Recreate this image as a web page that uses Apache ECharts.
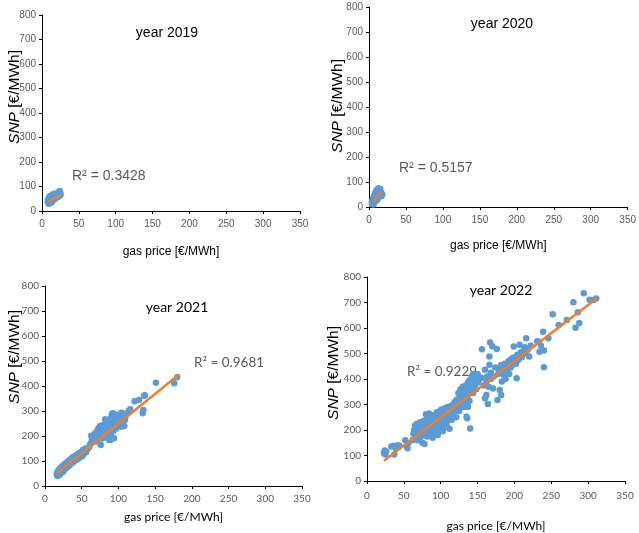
<!DOCTYPE html>
<html>
<head>
<meta charset="utf-8">
<script src="https://cdn.jsdelivr.net/npm/echarts@6.0.0/dist/echarts.min.js"></script>
<style>
  html, body { margin: 0; padding: 0; background: #fff; }
  #chart { width: 639px; height: 533px; }
</style>
</head>
<body>
<div id="chart"></div>
<script>
// 横轴刻度 / 纵轴刻度
const xTicks = [0, 50, 100, 150, 200, 250, 300, 350];
const yTicks = [0, 100, 200, 300, 400, 500, 600, 700, 800];

const years = ['year 2019', 'year 2020', 'year 2021', 'year 2022'];
const r2Labels = ['R² = 0.3428', 'R² = 0.5157', 'R² = 0.9681', 'R² = 0.9229'];

// [gas price, SNP]
const points2019 = [[8,35],[8,45],[9,30],[9,42],[9,52],[10,38],[10,48],[10,58],[11,33],[11,44],[11,55],[12,40],[12,50],[12,62],[13,36],[13,47],[13,58],[14,42],[14,52],[14,64],[15,45],[15,56],[15,68],[16,48],[16,60],[17,52],[17,63],[17,70],[18,50],[18,60],[19,55],[19,66],[20,58],[20,70],[21,56],[21,66],[22,60],[22,72],[23,64],[23,78],[24,68],[24,82],[25,72],[25,64]];
const trend2019 = [[8,37],[25,65]];

const points2020 = [[4,12],[4,20],[5,15],[5,25],[5,30],[6,10],[6,20],[6,28],[6,38],[7,18],[7,26],[7,35],[7,45],[8,22],[8,32],[8,42],[8,52],[9,25],[9,36],[9,48],[9,60],[10,30],[10,40],[10,52],[10,65],[11,28],[11,38],[11,48],[11,58],[11,70],[12,35],[12,45],[12,55],[12,68],[13,40],[13,50],[13,62],[13,75],[14,42],[14,55],[14,68],[15,45],[15,58],[15,72],[16,48],[16,60],[17,44],[17,55],[18,50]];
const trend2020 = [[5,22],[17,60]];

const points2021 = [[16,45],[17,55],[17,40],[18,60],[18,48],[19,52],[19,65],[20,45],[20,58],[21,70],[21,50],[22,62],[22,75],[23,55],[23,68],[24,60],[24,80],[25,72],[25,58],[26,85],[26,66],[27,78],[28,70],[28,90],[29,82],[30,75],[30,95],[31,88],[32,100],[32,80],[33,92],[34,105],[34,85],[35,98],[36,110],[36,92],[37,102],[38,115],[38,95],[39,108],[40,118],[40,100],[41,110],[42,122],[43,105],[44,118],[45,128],[45,110],[46,120],[47,132],[48,115],[49,125],[50,138],[51,120],[52,145],[53,130],[54,140],[55,150],[56,135],[58,148],[60,155],[61,162],[62,170],[63,201],[64,181],[64,190],[65,175],[66,198],[67,185],[68,210],[69,195],[70,178],[70,215],[71,200],[72,225],[73,231],[73,190],[74,208],[75,240],[75,218],[76,164],[76,200],[77,225],[78,235],[78,190],[79,212],[80,245],[80,200],[81,228],[82,267],[82,210],[83,240],[84,255],[84,195],[85,230],[86,215],[86,262],[87,245],[87,185],[88,225],[89,184],[89,270],[90,250],[90,205],[91,288],[91,235],[92,291],[92,260],[93,220],[94,288],[94,191],[95,245],[95,270],[96,275],[97,230],[98,258],[99,280],[100,240],[100,265],[101,285],[102,250],[103,272],[104,293],[104,237],[105,260],[106,291],[107,280],[108,240],[109,265],[110,282],[114,301],[116,307],[122,339],[128,344],[133,291],[134,304],[135,361],[136,363],[151,413],[176,411],[180,435]];
const trend2021 = [[16,50],[183,447]];

const points2022 = [[23,109],[24,120],[26,116],[25,104],[33,135],[36,138],[37,104],[39,128],[42,140],[44,138],[52,160],[54,135],[55,128],[56,148],
  [62,161],[63,185],[64,200],[65,218],[66,172],[67,190],[68,208],[68,225],[69,160],[70,182],[70,198],[71,215],[72,230],[72,170],[73,205],[74,188],[75,222],[75,150],[76,196],[77,210],[77,236],[78,178],[78,145],[79,200],[79,220],[80,190],[80,262],[81,230],[81,208],[82,175],[82,250],[83,215],[83,195],[84,240],[84,265],[85,228],[85,205],[86,182],[86,250],[87,215],[87,235],[88,200],[88,258],[89,225],[89,170],[90,245],[90,210],[91,232],[91,190],[92,260],[92,218],[93,240],[93,200],[94,225],[94,255],[95,270],[95,212],[96,238],[96,180],[97,250],[97,262],[98,225],[98,205],[99,245],[99,275],[100,232],[100,258],[101,215],[101,280],[102,240],[102,262],[103,195],[103,228],[104,250],[104,270],[105,232],[105,210],[106,262],[106,285],[107,245],[108,225],[108,270],[109,255],[109,290],[110,240],[110,275],[111,262],[112,205],[112,290],[113,250],[113,275],[114,295],[115,265],[115,240],[116,280],[117,300],[118,262],[118,285],[119,310],[120,275],[120,295],[121,250],[122,320],[122,300],[123,285],[124,345],[124,310],[125,275],[126,330],[126,300],[127,360],[128,315],[128,290],[129,340],[130,305],[130,370],[131,325],[132,350],[132,290],[133,335],[134,375],[134,310],[135,355],[135,252],[136,246],[136,330],[137,385],[137,291],[138,340],[139,395],[139,315],[140,206],[140,370],[140,363],[141,350],[142,410],[142,385],[143,365],[144,420],[144,345],[145,395],[146,375],[147,415],[148,360],[148,400],[150,385],[150,420],
  [152,395],[155,405],[156,517],[158,375],[160,436],[160,325],[162,337],[162,390],[163,410],[164,302],[165,370],[166,456],[166,488],[167,543],[168,425],[168,400],[170,528],[171,363],[172,410],[174,445],[176,518],[177,318],[178,420],[179,440],[180,357],[182,337],[182,455],[183,390],[184,430],[185,445],[186,415],[187,460],[188,400],[189,435],[190,436],[191,455],[192,470],[193,420],[194,462],[195,445],[196,480],[197,455],[198,470],[199,527],[200,485],[201,482],[202,460],[203,403],[204,495],[205,475],[206,490],[207,534],[208,495],[209,505],[210,485],[212,510],[214,525],[215,500],[216,560],[218,515],[220,488],[222,530],
  [231,548],[233,546],[234,507],[236,530],[239,585],[240,446],[240,512],[246,560],[252,654],[260,612],[271,631],[280,701],[283,601],[286,662],[288,620],[294,736],[302,711],[307,710],[311,716]];
const trend2022 = [[23,79],[312,717]];

const allPoints = [points2019, points2020, points2021, points2022];
const allTrends = [trend2019, trend2020, trend2021, trend2022];

// 每个小图的网格位置 (像素)
const grids = [
  { left: 42, right: 339, top: 15, bottom: 322 },
  { left: 369, right: 4, top: 7, bottom: 326 },
  { left: 45, right: 337, top: 286, bottom: 47 },
  { left: 367, right: 14, top: 277, bottom: 52 }
];
const titlePos = [[162, 21], [497, 12], [172, 295], [496, 278]];
const r2Pos = [[72, 169], [399, 161], [194, 356], [407, 365]];
const yTitlePos = [[15, 97], [338, 106], [15, 357], [334, 373]];
const xLabelMargin = [8, 8, 8, 10];
const xNameGap = [35, 33, 25, 39];

const topFont = '"Liberation Sans", Arial, sans-serif';
const bottomFont = 'Lato, "Open Sans", sans-serif';
const yTitleFont = '"Liberation Sans", Arial, sans-serif';

const option = {
  animation: false,
  backgroundColor: '#fff',
  title: years.map((t, i) => ({
    text: t,
    left: titlePos[i][0],
    top: titlePos[i][1],
    textAlign: 'center',
    textStyle: {
      fontFamily: i < 2 ? topFont : bottomFont,
      fontSize: i < 2 ? 14 : 14, fontWeight: 'normal', color: '#000'
    }
  })),
  grid: grids,
  xAxis: grids.map((g, i) => ({
    type: 'value', gridIndex: i, min: 0, max: 350, interval: 50,
    name: 'gas price [€/MWh]', nameLocation: 'middle', nameGap: xNameGap[i],
    nameTextStyle: { fontFamily: i < 2 ? topFont : bottomFont, fontSize: 12, color: '#000' },
    axisLine: { show: true, onZero: false, lineStyle: { color: '#000', width: 1 } },
    axisTick: { show: true, length: 3, lineStyle: { color: '#000' } },
    axisLabel: { margin: xLabelMargin[i], fontFamily: i < 2 ? topFont : bottomFont, fontSize: 10, color: '#595959' },
    splitLine: { show: false }
  })),
  yAxis: grids.map((g, i) => ({
    type: 'value', gridIndex: i, min: 0, max: 800, interval: 100,
    axisLine: { show: true, lineStyle: { color: '#000', width: 1 } },
    axisTick: { show: true, length: 3, lineStyle: { color: '#000' } },
    axisLabel: { margin: 6, fontFamily: i < 2 ? topFont : bottomFont, fontSize: 10, color: '#595959' },
    splitLine: { show: false }
  })),
  graphic: r2Labels.map((t, i) => ({
    type: 'text', left: r2Pos[i][0], top: r2Pos[i][1],
    style: {
      text: t, fill: '#595959', fontSize: i < 2 ? 14 : 13.5,
      fontFamily: i < 2 ? topFont : bottomFont
    }
  })).concat(yTitlePos.map(p => ({
    type: 'text', x: p[0], y: p[1], rotation: Math.PI / 2,
    style: {
      text: '{i|SNP} [€/MWh]',
      align: 'center', verticalAlign: 'middle',
      fill: '#000', fontSize: 15.5, fontFamily: yTitleFont,
      rich: { i: { fontStyle: 'italic', fontSize: 15.5, fontFamily: yTitleFont, fill: '#000' } }
    }
  }))),
  series: []
};

allPoints.forEach((pts, i) => {
  option.series.push({
    type: 'scatter', xAxisIndex: i, yAxisIndex: i,
    data: pts, symbolSize: 6.5,
    itemStyle: { color: '#5B9BD5', opacity: 1 }
  });
  option.series.push({
    type: 'line', xAxisIndex: i, yAxisIndex: i,
    data: allTrends[i], symbol: 'none',
    lineStyle: { color: '#ED7D31', width: 2.5 }
  });
});

const chart = echarts.init(document.getElementById('chart'));
chart.setOption(option);
</script>
</body>
</html>
